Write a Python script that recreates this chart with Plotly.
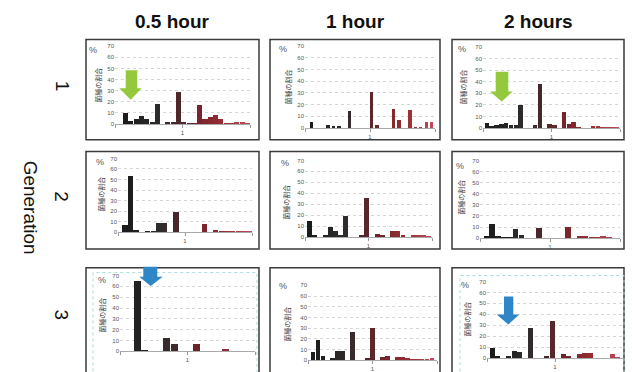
import plotly.graph_objects as go

# ---------------- data ----------------
col_labels = ["0.5 hour", "1 hour", "2 hours"]
row_labels = ["1", "2", "3"]
row_title = "Generation"
y_tick_vals = [0, 10, 20, 30, 40, 50, 60, 70]
x_tick_text = "1"
y_axis_title = "菌種の割合"
unit_label = "%"

# Generation 1
gen1_05h = [10, 2.5, 4, 7, 4, 1, 18, 0, 1, 1.5, 28.5, 1, 0.5, 0.3, 16.5, 4.5, 6.5, 7.5, 4, 0.5, 0.3, 2, 1.5, 0.5]
gen1_1h = [5, 0, 0, 2, 1, 1, 0, 14, 0, 0, 0, 30.5, 2, 0, 0, 16, 6.5, 0, 15, 0.5, 0.5, 5, 5]
gen1_2h = [4.3, 1.5, 2, 3.5, 4.3, 2, 2, 20, 0, 0, 2.5, 38, 0, 3.5, 2, 0, 14, 3, 4.5, 0.5, 0, 0, 1, 0.8, 0.5, 0.3, 0.3, 0.3]
# Generation 2
gen2_05h = [6.5, 53, 1, 0, 0.3, 0.5, 8.5, 8, 0, 19, 0, 0, 0, 0, 7, 0, 1, 0.5, 0.3, 0.3, 0.3, 0.3, 0.3]
gen2_1h = [14.5, 1, 0, 1, 8.5, 5.5, 1, 19, 0, 0, 1.5, 35, 0, 2.5, 1.5, 0, 5.5, 5, 1, 0, 2, 1, 1, 0.5]
gen2_2h = [1.5, 12.5, 1, 0.3, 0.3, 8, 2.5, 0, 0, 8.5, 0, 0, 0, 0, 10, 0, 1, 1, 0.3, 0.3, 1, 0.3, 0]
# Generation 3
gen3_05h = [0.3, 0.3, 65, 1, 0.3, 0.3, 12.5, 7.5, 0, 0, 7, 0, 0, 0, 3, 0, 0, 0.5, 0.5]
gen3_1h = [7, 18.5, 4, 0, 1, 8, 8, 0, 26, 0, 0, 1.5, 29.5, 0, 2.5, 3.5, 0, 2.5, 2.5, 1, 0.3, 0.3, 0.5, 0.5, 0.8]
gen3_2h = [8.8, 2, 0, 1.5, 6, 5, 0, 27.5, 0, 0, 1, 33.5, 0, 3, 1.5, 0, 3, 4.5, 4, 0, 0, 0, 3.5, 0.5]

panel_values = [
    [gen1_05h, gen1_1h, gen1_2h],
    [gen2_05h, gen2_1h, gen2_2h],
    [gen3_05h, gen3_1h, gen3_2h],
]

# ---------------- layout helpers ----------------
W, H = 632, 372


def px(x):
    return x / W


def py(y):
    return 1 - y / H


# per panel geometry in pixels: plot left/right, y of 70, y of 0, x range, bar width,
# position of y-title, position of "%"
panel_geom = [
    [dict(l=115, r=250, t=44, b=123, xr=(-2.0, 23.5), w=0.95, yt=(98, 84), pc=(93, 48)),
     dict(l=305, r=435, t=44, b=127, xr=(-1.2, 22.6), w=0.6, yt=(288, 86), pc=(283, 47)),
     dict(l=483, r=620, t=45, b=127, xr=(-0.8, 27.6), w=0.95, yt=(463, 86), pc=(462, 47))],
    [dict(l=118, r=252, t=158, b=233, xr=(-1.2, 22.4), w=0.95, yt=(101, 195), pc=(100, 162)),
     dict(l=305, r=432, t=160, b=238, xr=(-0.9, 23.6), w=0.95, yt=(286, 203), pc=(285, 163)),
     dict(l=480, r=620, t=160, b=239, xr=(-1.1, 22.9), w=0.95, yt=(461, 198), pc=(460, 166))],
    [dict(l=120, r=255, t=277, b=354, xr=(-0.4, 18.0), w=0.95, yt=(102, 318), pc=(102, 282)),
     dict(l=308, r=437, t=287, b=363, xr=(-1.0, 25.0), w=0.95, yt=(287, 327), pc=(283, 288)),
     dict(l=487, r=623, t=283, b=361, xr=(-1.0, 24.0), w=0.95, yt=(467, 322), pc=(465, 287))],
]

box_cols = [(86, 259), (270, 440), (452, 624)]
box_rows = [(37, 139), (151, 250), (269, 385)]

anchors = [
    (0.00, (28, 28, 28)),
    (0.30, (48, 44, 44)),
    (0.42, (72, 40, 44)),
    (0.60, (118, 36, 42)),
    (0.80, (152, 46, 52)),
    (1.00, (190, 72, 88)),
]


def bar_color(f):
    for (f0, c0), (f1, c1) in zip(anchors[:-1], anchors[1:]):
        if f <= f1:
            t = (f - f0) / (f1 - f0) if f1 > f0 else 0
            return "rgb(%d,%d,%d)" % tuple(round(a + (b - a) * t) for a, b in zip(c0, c1))
    return "rgb(%d,%d,%d)" % anchors[-1][1]


fig = go.Figure()
annotations = []
shapes = []


def note(x, y, text, size, color, family, angle=0, weight="normal"):
    return dict(x=px(x), y=py(y), xref="paper", yref="paper", text=text, textangle=angle,
                showarrow=False, xanchor="center", yanchor="middle",
                font=dict(size=size, color=color, family=family, weight=weight))


k = 0
for r in range(3):
    for c in range(3):
        k += 1
        vals = panel_values[r][c]
        g = panel_geom[r][c]
        n = len(vals)
        xs = list(range(n))
        colors = [bar_color(i / (n - 1)) for i in xs]
        xa = "x" if k == 1 else "x%d" % k
        ya = "y" if k == 1 else "y%d" % k
        fig.add_trace(go.Bar(x=xs, y=vals, marker=dict(color=colors, line=dict(width=0)),
                             width=g["w"], xaxis=xa, yaxis=ya, showlegend=False,
                             hoverinfo="y"))
        lo, hi = g["xr"]
        mid = (lo + hi) / 2
        fig.layout["xaxis" if k == 1 else "xaxis%d" % k] = dict(
            domain=[px(g["l"]), px(g["r"])], range=[lo, hi], anchor=ya,
            tickvals=[lo, mid, hi], ticktext=["", x_tick_text, ""],
            ticks="outside", ticklen=3, tickcolor="#999", tickwidth=1,
            showline=True, linecolor="#aaa", linewidth=1, showgrid=False, zeroline=False,
            tickfont=dict(size=6, color="#555", family="Liberation Sans"),
        )
        fig.layout["yaxis" if k == 1 else "yaxis%d" % k] = dict(
            domain=[py(g["b"]), py(g["t"])], range=[0, 70], anchor=xa,
            tickvals=y_tick_vals, showgrid=True, gridcolor="#d6d6d6", griddash="dot",
            gridwidth=1, zeroline=False, showline=False, ticks="",
            tickfont=dict(size=6, color="#555", family="Liberation Sans"),
        )
        annotations.append(note(g["yt"][0], g["yt"][1], y_axis_title, 7, "#444",
                                "Noto Sans CJK JP", angle=-90))
        annotations.append(note(g["pc"][0], g["pc"][1], unit_label, 9, "#555", "Liberation Sans"))
        # panel box
        bx0, bx1 = box_cols[c]
        by0, by1 = box_rows[r]
        shapes.append(dict(type="rect", xref="paper", yref="paper",
                           x0=px(bx0), x1=px(bx1), y0=py(by1), y1=py(by0),
                           line=dict(color="#3a3a3a", width=1.5), layer="below"))

# faint inner borders (scan artefacts in panels of generation 3)
for (x0, y0, x1, y1) in [(93, 274, 257, 380), (460, 277, 624, 380)]:
    shapes.append(dict(type="rect", xref="paper", yref="paper",
                       x0=px(x0), x1=px(x1), y0=py(y1), y1=py(y0),
                       line=dict(color="#a9dcdc", width=1, dash="dot"), layer="below"))


def arrow(sl, sr, top, head_y, hl, hr, tip_x, tip_y, color):
    pts = [(sl, top), (sr, top), (sr, head_y), (hr, head_y), (tip_x, tip_y), (hl, head_y), (sl, head_y)]
    path = "M " + " L ".join("%.5f,%.5f" % (px(a), py(b)) for a, b in pts) + " Z"
    return dict(type="path", xref="paper", yref="paper", path=path,
                fillcolor=color, line=dict(width=0))


green = "#95c93d"
blue = "#2f86c6"
shapes.append(arrow(125.7, 137.3, 68.3, 86.7, 119.3, 141.7, 130.7, 98.3, green))
shapes.append(arrow(495.7, 508.3, 70, 90, 490, 512.7, 501.7, 100, green))
shapes.append(arrow(143.3, 157.3, 268, 278.3, 139.3, 162.7, 150.7, 287.7, blue))
shapes.append(arrow(504, 513.3, 298.3, 316.7, 496.7, 519.3, 508.3, 326.7, blue))

# column headers
for c, lab in enumerate(col_labels):
    cx = (box_cols[c][0] + box_cols[c][1]) / 2
    annotations.append(note(cx, 19, lab, 19, "#111", "Liberation Sans", weight="bold"))
# row labels
for r, lab in enumerate(row_labels):
    cy = (box_rows[r][0] + min(box_rows[r][1], 372)) / 2
    annotations.append(note(62, cy - 4, lab, 19, "#111", "Liberation Sans", angle=90))
annotations.append(note(30, 208, row_title, 19, "#111", "Liberation Sans", angle=90))

fig.update_layout(
    width=W, height=H, autosize=False,
    margin=dict(l=0, r=0, t=0, b=0),
    paper_bgcolor="white", plot_bgcolor="white",
    annotations=annotations, shapes=shapes,
    bargap=0, showlegend=False,
)

fig.write_html("out.html", config={"displayModeBar": False},
               post_script="document.body.style.margin='0';")
